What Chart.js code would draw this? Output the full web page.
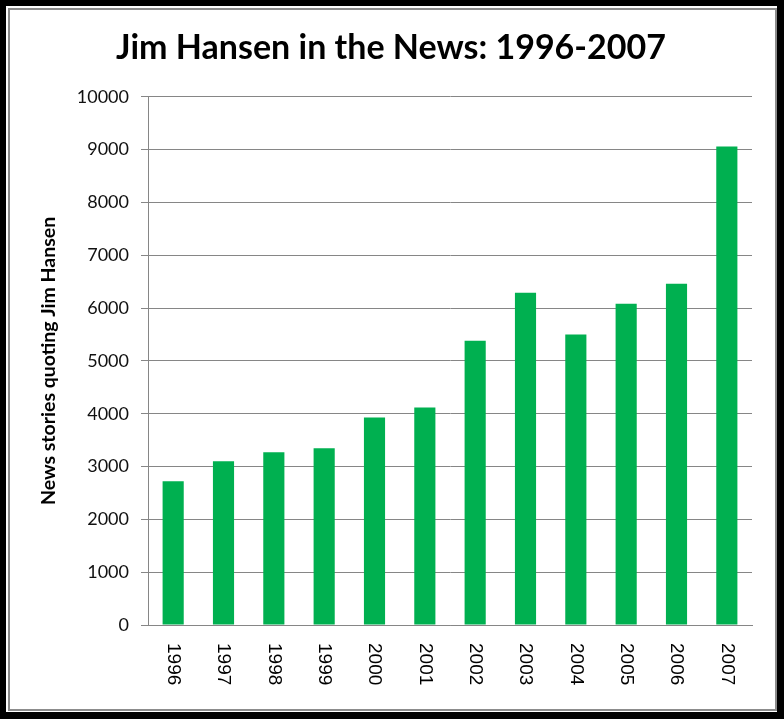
<!DOCTYPE html>
<html>
<head>
<meta charset="utf-8">
<script src="https://cdn.jsdelivr.net/npm/chart.js@4.4.1/dist/chart.umd.min.js"></script>
<style>
  body { margin: 0; background: #000; width: 784px; height: 719px; overflow: hidden; }
  #outer { position: absolute; left: 6px; top: 6px; width: 771px; height: 706px; background: #fff; }
  #inner { position: absolute; left: 2px; top: 2px; width: 765px; height: 699px; border: 2px solid #8c8c8c; }
  #wrap { position: absolute; left: 0; top: 0; width: 784px; height: 719px; }
</style>
</head>
<body>
<div id="outer"><div id="inner"></div></div>
<div id="wrap"><canvas id="barChart" width="784" height="719"></canvas></div>
<script>
var years = ['1996', '1997', '1998', '1999', '2000', '2001', '2002', '2003', '2004', '2005', '2006', '2007'];
var stories = [2720, 3100, 3270, 3345, 3930, 4120, 5380, 6290, 5500, 6080, 6460, 9060];
var yTicks = [0, 1000, 2000, 3000, 4000, 5000, 6000, 7000, 8000, 9000, 10000];

var ctx = document.getElementById('barChart').getContext('2d');

// x labels read top-to-bottom, so draw them ourselves
var downLabels = {
  id: 'downLabels',
  afterDraw: function (chart) {
    var xs = chart.scales.x;
    var c = chart.ctx;
    c.save();
    c.fillStyle = '#000';
    c.font = '19px "Liberation Sans", Arial, sans-serif';
    c.textAlign = 'left';
    c.textBaseline = 'middle';
    xs.ticks.forEach(function (t, i) {
      var x = xs.getPixelForTick(i);
      c.save();
      c.translate(x, xs.top + 18);
      c.rotate(Math.PI / 2);
      c.fillText(years[i], 0, 0);
      c.restore();
    });
    c.restore();
  }
};

new Chart(ctx, {
  type: 'bar',
  data: {
    labels: years,
    datasets: [
      {
        label: 'News stories quoting Jim Hansen',
        data: stories,
        backgroundColor: '#00b050',
        borderWidth: 0,
        barPercentage: 0.42,
        categoryPercentage: 1
      }
    ]
  },
  options: {
    responsive: false,
    animation: false,
    devicePixelRatio: 1,
    layout: { padding: { top: 28, left: 30, right: 32, bottom: 24 } },
    plugins: {
      legend: { display: false },
      tooltip: { enabled: false },
      title: {
        display: true,
        text: 'Jim Hansen in the News: 1996-2007',
        color: '#000',
        font: { family: 'Lato, "Open Sans", sans-serif', size: 34, weight: 'bold' },
        padding: { top: 0, bottom: 28 }
      }
    },
    scales: {
      x: {
        afterFit: function (axis) { axis.height = 70; },
        grid: { display: false },
        border: { display: true, color: '#868686', width: 1 },
        ticks: {
          autoSkip: false,
          maxRotation: 0,
          color: 'rgba(0,0,0,0)',
          font: { size: 1 }
        }
      },
      y: {
        min: 0,
        max: 10000,
        afterBuildTicks: function (axis) {
          axis.ticks = yTicks.map(function (v) { return { value: v }; });
        },
        afterFit: function (axis) { axis.width = 118; },
        grid: { color: '#868686', lineWidth: 1, tickLength: 7 },
        border: { display: true, color: '#868686', width: 1 },
        ticks: {
          padding: 12,
          color: '#111',
          font: { family: 'Lato, "Open Sans", sans-serif', size: 18 },
          callback: function (v) { return String(v); }
        },
        title: {
          display: true,
          text: 'News stories quoting Jim Hansen',
          color: '#000',
          font: { family: 'Lato, "Open Sans", sans-serif', size: 19.5, weight: 'bold' },
          padding: { top: 7, bottom: 2 }
        }
      }
    }
  },
  plugins: [downLabels]
});
</script>
</body>
</html>
